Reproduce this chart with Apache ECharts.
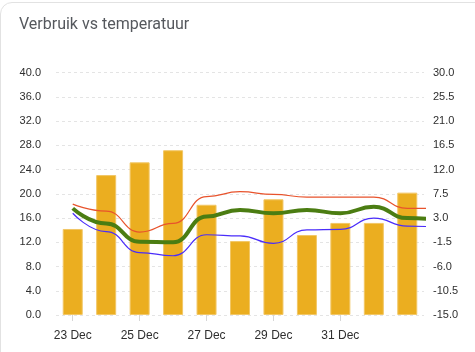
<!DOCTYPE html>
<html>
<head>
<meta charset="utf-8">
<script src="https://cdn.jsdelivr.net/npm/echarts@6/dist/echarts.min.js"></script>
<style>
  html, body { margin: 0; padding: 0; background: #fff; overflow: hidden; }
  .card {
    position: absolute; left: 0; top: 2px; width: 490px; height: 370px;
    border: 1px solid #e2e2e2; border-radius: 12px; background: #fff;
  }
  #chart { position: absolute; left: 0; top: 0; width: 475px; height: 352px; }
</style>
</head>
<body>
<div class="card"></div>
<div id="chart"></div>
<script>
// dagen (x-as)
const days = ['23 Dec', '24 Dec', '25 Dec', '26 Dec', '27 Dec', '28 Dec', '29 Dec', '30 Dec', '31 Dec', '1 Jan', '2 Jan'];
// verbruik per dag (linker as)
const usage = [14.2, 23.1, 25.2, 27.2, 18.2, 12.2, 19.1, 13.2, 15.2, 15.2, 20.2];
// temperatuur: positie op de dag-as en waarden (rechter as)
const tempX = [0, 1, 2, 3, 4, 5, 6, 7, 8, 9, 10, 10.7];
const tempMax = [5.6, 4.3, 0.4, 2.0, 7.0, 7.9, 7.4, 6.9, 6.9, 6.9, 4.8, 4.8];
const tempAvg = [4.8, 2.0, -1.4, -1.5, 3.3, 4.5, 3.9, 4.5, 3.9, 5.1, 3.0, 2.8];
const tempMin = [3.9, 0.5, -3.4, -4.0, -0.1, -0.3, -1.7, 0.8, 0.9, 3.0, 1.5, 1.4];
// as-bereik
const usageMin = 0, usageMax = 40, usageStep = 4;
const tempAxisMin = -15, tempAxisMax = 30;

const pts = (ys) => ys.map((v, i) => [tempX[i], v]);
const labelFont = { fontFamily: 'Liberation Sans, Arial, sans-serif', color: '#2e2e2e' };
const showLabel = (i) => i % 2 === 0 && i < 10;

const chart = echarts.init(document.getElementById('chart'));

const lineSeries = (name, data, color, width) => ({
  name, type: 'line', xAxisIndex: 1, yAxisIndex: 1,
  data: pts(data), showSymbol: false, symbol: 'none',
  smooth: 0.5, smoothMonotone: 'x', clip: false,
  lineStyle: { color, width }, z: 3
});

chart.setOption({
  animation: false,
  title: {
    text: 'Verbruik vs temperatuur', left: 14, top: 12,
    textStyle: { fontFamily: 'Roboto, sans-serif', fontSize: 16, fontWeight: 'normal', color: '#55585d' }
  },
  grid: { left: 56, right: 51, top: 72.7, bottom: 37 },
  xAxis: [
    {
      type: 'category', data: days,
      axisLine: { show: false },
      axisTick: { show: true, alignWithLabel: true, interval: showLabel, length: 6, lineStyle: { color: '#d6d6d6' } },
      axisLabel: { ...labelFont, fontSize: 12, margin: 15, interval: showLabel }
    },
    { type: 'value', min: -0.5, max: 10.5, show: false }
  ],
  yAxis: [
    {
      type: 'value', min: usageMin, max: usageMax, interval: usageStep,
      axisLine: { show: false }, axisTick: { show: false },
      axisLabel: { ...labelFont, fontSize: 11, margin: 15, formatter: (v) => v.toFixed(1) },
      splitLine: { lineStyle: { color: '#e4e4e4', type: [3, 3] } }
    },
    {
      type: 'value', min: tempAxisMin, max: tempAxisMax, alignTicks: true,
      axisLine: { show: false }, axisTick: { show: false },
      axisLabel: { ...labelFont, fontSize: 11, margin: 9, formatter: (v) => v.toFixed(1) },
      splitLine: { show: false }
    }
  ],
  series: [
    {
      name: 'Verbruik', type: 'bar', data: usage, barWidth: 20,
      itemStyle: { color: '#ebae20', borderColor: '#f2c766', borderWidth: 1 }, z: 2
    },
    lineSeries('Max', tempMax, '#e8532c', 1.2),
    lineSeries('Min', tempMin, '#4a2dfa', 1.2),
    lineSeries('Gemiddeld', tempAvg, '#4b7d12', 4)
  ]
});
</script>
</body>
</html>
